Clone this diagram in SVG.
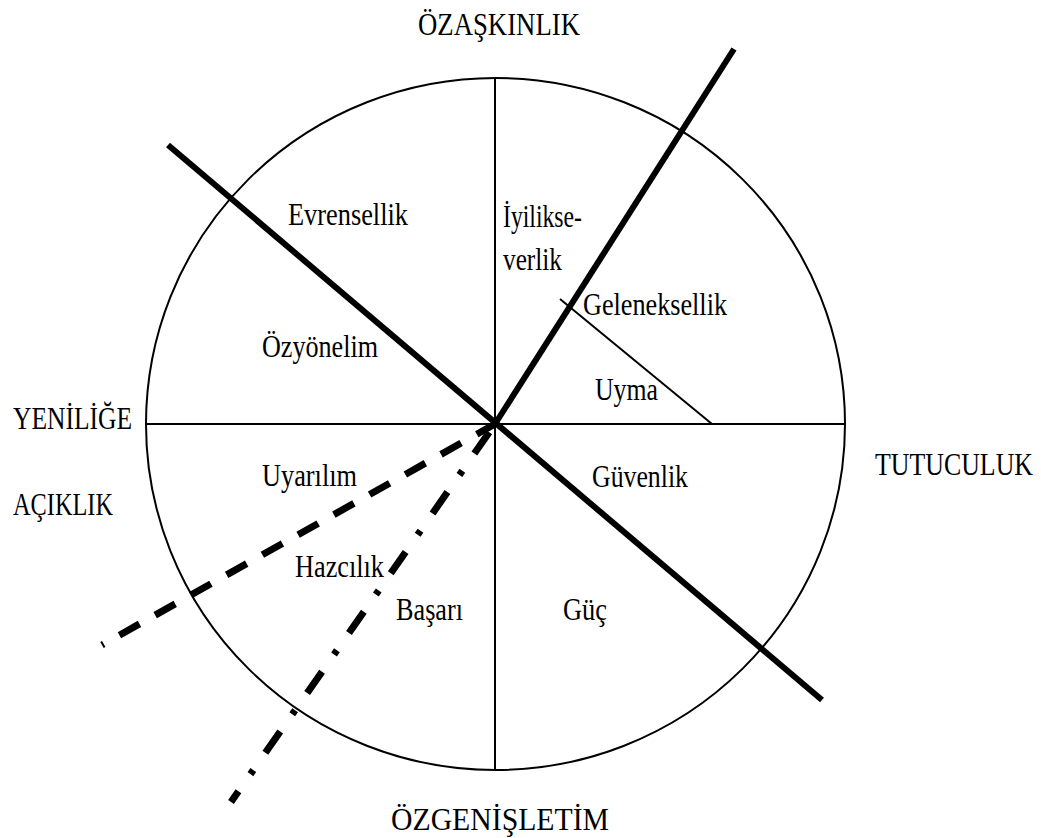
<svg xmlns="http://www.w3.org/2000/svg" width="1041" height="838" viewBox="0 0 1041 838">
<style>
.lbl{font-family:'Liberation Serif','Times New Roman','DejaVu Serif',serif;font-size:26px;fill:#000;}
.thin{stroke:#000;stroke-width:2;fill:none;}
.thick{stroke:#000;stroke-width:6;fill:none;stroke-linecap:butt;}
.dash{stroke:#000;stroke-width:7;fill:none;stroke-dasharray:23 18;stroke-dashoffset:21;}
.dashdot{stroke:#000;stroke-width:7;fill:none;stroke-dasharray:26 21 5 21;stroke-dashoffset:13;}
</style>
<rect width="1041" height="838" fill="#fff"/>
<g id="connectors">
<ellipse class="thin" cx="495.5" cy="424" rx="349.5" ry="346"/>
<line class="thin" x1="146" y1="424" x2="845" y2="424"/>
<line class="thin" x1="495" y1="78" x2="495" y2="770"/>
<line class="thin" x1="560" y1="299" x2="712" y2="424"/>
<line class="thick" x1="168" y1="145" x2="822" y2="700"/>
<line class="thick" x1="734" y1="49" x2="495" y2="424"/>
<line class="dash" x1="102" y1="645" x2="495" y2="424"/>
<line class="dashdot" x1="231" y1="802" x2="495" y2="424"/>
</g>
<g class="lbl" font-family="Liberation Serif, serif">
<g id="axis-top"><text transform="translate(418,35) scale(1,1.18)" textLength="162" lengthAdjust="spacingAndGlyphs">ÖZAŞKINLIK</text></g>
<g id="axis-left"><text transform="translate(13,429) scale(1,1.18)" textLength="119" lengthAdjust="spacingAndGlyphs">YENİLİĞE</text><text transform="translate(13,515) scale(1,1.18)" textLength="100" lengthAdjust="spacingAndGlyphs">AÇIKLIK</text></g>
<g id="axis-right"><text transform="translate(875,475) scale(1,1.18)" textLength="158" lengthAdjust="spacingAndGlyphs">TUTUCULUK</text></g>
<g id="axis-bottom"><text transform="translate(391,830) scale(1,1.18)" textLength="218" lengthAdjust="spacingAndGlyphs">ÖZGENİŞLETİM</text></g>
<g id="evrensellik"><text transform="translate(288,225) scale(1,1.18)" textLength="120" lengthAdjust="spacingAndGlyphs">Evrensellik</text></g>
<g id="iyilikseverlik"><text transform="translate(503,227) scale(1,1.18)" textLength="79" lengthAdjust="spacingAndGlyphs">İyilikse-</text><text transform="translate(503,270) scale(1,1.18)" textLength="59" lengthAdjust="spacingAndGlyphs">verlik</text></g>
<g id="geleneksellik"><text transform="translate(583,315) scale(1,1.18)" textLength="144" lengthAdjust="spacingAndGlyphs">Geleneksellik</text></g>
<g id="ozyonelim"><text transform="translate(262,357) scale(1,1.18)" textLength="116" lengthAdjust="spacingAndGlyphs">Özyönelim</text></g>
<g id="uyma"><text transform="translate(595,400) scale(1,1.18)" textLength="63" lengthAdjust="spacingAndGlyphs">Uyma</text></g>
<g id="uyarilim"><text transform="translate(262,486) scale(1,1.18)" textLength="95" lengthAdjust="spacingAndGlyphs">Uyarılım</text></g>
<g id="guvenlik"><text transform="translate(592,487) scale(1,1.18)" textLength="96" lengthAdjust="spacingAndGlyphs">Güvenlik</text></g>
<g id="hazcilik"><text transform="translate(295,577) scale(1,1.18)" textLength="89" lengthAdjust="spacingAndGlyphs">Hazcılık</text></g>
<g id="basari"><text transform="translate(396,620) scale(1,1.18)" textLength="67" lengthAdjust="spacingAndGlyphs">Başarı</text></g>
<g id="guc"><text transform="translate(563,620) scale(1,1.18)" textLength="44" lengthAdjust="spacingAndGlyphs">Güç</text></g>
</g>
</svg>
